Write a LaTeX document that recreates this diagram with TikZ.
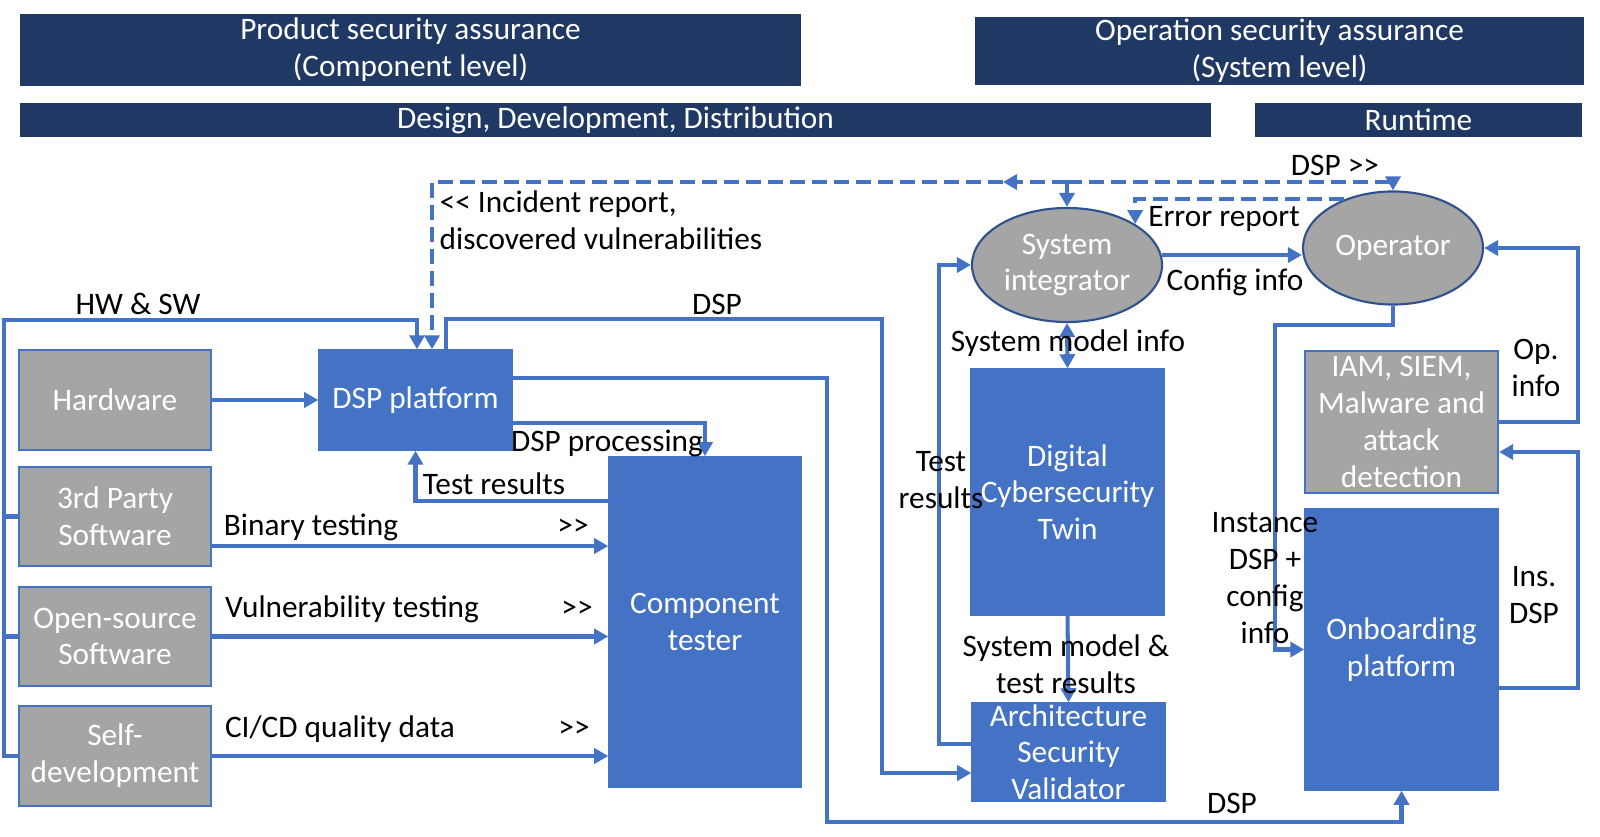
\documentclass[tikz,border=0pt]{standalone}
\usepackage{fontspec}
\setmainfont{Carlito}
\usetikzlibrary{arrows.meta,calc,shapes.geometric}
\definecolor{navy}{HTML}{203864}
\definecolor{mblue}{HTML}{4472C4}
\definecolor{mgray}{HTML}{A5A5A5}
\definecolor{edgeblue}{HTML}{2F528F}
\newcommand\gtgt{>\kern0pt>}
\newcommand\ltlt{<\kern0pt<}
\begin{document}
\begin{tikzpicture}[x=0.01cm,y=-0.01cm,
 every node/.style={font=\fontsize{8.9}{10.45}\selectfont, inner sep=0pt},
 hdr/.style={fill=navy, text=white, align=center},
 bluebox/.style={fill=mblue, draw=mblue, text=white, align=center},
 graybox/.style={fill=mgray, draw=mblue, line width=0.6pt, text=white, align=center},
 oval/.style={ellipse, fill=mgray, draw=edgeblue, line width=0.6pt, text=white, align=center},
 ln/.style={draw=mblue, line width=1.15pt},
 arr/.style={ln, -{Triangle[length=0.14cm,width=0.15cm]}},
 darr/.style={ln, {Triangle[length=0.14cm,width=0.15cm]}-{Triangle[length=0.14cm,width=0.15cm]}},
 dsh/.style={dash pattern=on 0.15cm off 0.07cm},
 lbl/.style={text=black, align=center}]
\useasboundingbox (0,0) rectangle (1600,837);

% header bars
\node[hdr, minimum width=7.81cm, minimum height=0.72cm] (h1) at (410.5,50) {Product security assurance\\(Component level)};
\node[hdr, minimum width=6.09cm, minimum height=0.68cm] (h2) at (1279.5,51) {Operation security assurance\\(System level)};
\node[hdr, minimum width=11.91cm, minimum height=0.33cm] (h3) at (615.5,120) {Design, Development, Distribution};
\node[hdr, minimum width=3.27cm, minimum height=0.33cm] (h4) at (1418.5,120) {Runtime};

% boxes
\node[graybox, minimum width=1.92cm, minimum height=1.00cm] (hw) at (115,400) {Hardware};
\node[bluebox, minimum width=1.93cm, minimum height=1.00cm] (dsp) at (415.5,400) {DSP platform};
\node[graybox, minimum width=1.92cm, minimum height=0.99cm] (tp) at (115,516.5) {3rd Party\\Software};
\node[graybox, minimum width=1.92cm, minimum height=0.99cm] (os) at (115,636.5) {Open-source\\Software};
\node[graybox, minimum width=1.92cm, minimum height=1.00cm] (sd) at (115,756) {Self-\\development};
\node[bluebox, minimum width=1.92cm, minimum height=3.30cm] (ct) at (705,622) {Component\\tester};
\node[oval, minimum width=1.90cm, minimum height=1.14cm] (si) at (1067,265) {System\\integrator};
\node[oval, minimum width=1.80cm, minimum height=1.13cm] (op) at (1393,248) {Operator};
\node[bluebox, minimum width=1.93cm, minimum height=2.46cm] (dct) at (1067.5,492) {Digital\\Cybersecurity\\Twin};
\node[bluebox, minimum width=1.93cm, minimum height=0.98cm] (asv) at (1068.5,752) {Architecture\\Security\\Validator};
\node[graybox, minimum width=1.93cm, minimum height=1.42cm] (iam) at (1401.5,422) {IAM, SIEM,\\Malware and\\attack\\detection};
\node[bluebox, minimum width=1.93cm, minimum height=2.81cm] (ob) at (1401.5,649.5) {Onboarding\\platform};

% left side connectors
\draw[arr] (hw.east) -- (dsp.west);
\draw[arr] (sd.west) -| (4,320) -| ([xshift=0.015cm]dsp.north);
\draw[ln] (tp.west) -- ++(-15,0);
\draw[ln] (os.west) -- ++(-15,0);

\coordinate (bt) at ([yshift=-0.295cm]tp.east);
\draw[arr] (bt) -- (bt -| ct.west);
\draw[arr] (os.east) -- (os.east -| ct.west);
\draw[arr] (sd.east) -- (sd.east -| ct.west);

\draw[arr] ([yshift=-0.23cm]dsp.east) -| (ct.north);
\draw[arr] ([yshift=1.21cm]ct.west) -| (dsp.south);
\draw[arr] ([xshift=0.305cm]dsp.north) |- (882,319) |- ([yshift=-0.21cm]asv.west);
\draw[arr] ([yshift=0.22cm]dsp.east) -| (827,822) -| (ob.south);

% dashed feedback
\coordinate (jn) at (1067,182);
\coordinate (mid) at (1003,182);
\draw[arr] (jn) -- (si.north);
\draw[arr,dsh] (jn) -- (mid);
\draw[arr,dsh] (mid) -| ([xshift=0.165cm]dsp.north);
\draw[arr,dsh] (jn) -| (op.north);
\draw[arr,dsh] (op.135) -| (si.31);

% system side
\draw[arr] (si.6) -- (si.6 -| op.west);
\draw[darr] (si.south) -- (dct.north);
\draw[arr] (dct.south) -- (asv.north);
\draw[arr] ([yshift=0.08cm]asv.west) -- ++(-32,0) |- (si.west);
\draw[arr] (op.south) |- (1275,325) |- (ob.west);
\draw[arr] (iam.east) -- ++(79,0) |- (op.east);
\draw[arr] ([yshift=-0.385cm]ob.east) -- ++(79,0) |- ([yshift=-0.30cm]iam.east);

% labels
\node[lbl] (lhwsw) at (138,304) {HW \& SW};
\node[lbl] (ldspa) at (717,304) {DSP};
\node[lbl, align=left, anchor=west] (linc) at (439,220) {\ltlt{} Incident report,\\discovered vulnerabilities};
\node[lbl] (lproc) at (607,443) {DSP processing};
\node[lbl] (ltr) at (494,484) {Test results};
\node[lbl] (lbin) at (311,527) {Binary testing};
\node[lbl] (lbinx) at (573,527) {\gtgt};
\node[lbl] (lvul) at (352,609) {Vulnerability testing};
\node[lbl] (lvulx) at (577,609) {\gtgt};
\node[lbl] (lci) at (340,729) {CI/CD quality data};
\node[lbl] (lcix) at (574,729) {\gtgt};
\node[lbl] (ldspb) at (1335,165) {DSP \gtgt};
\node[lbl] (lerr) at (1224,219) {Error report};
\node[lbl] (lcfg) at (1235,282) {Config info};
\node[lbl] (lsmi) at (1068,343) {System model info};
\node[lbl] (ltres) at (941,480) {Test\\results};
\node[lbl] (lsmt) at (1066,664) {System model \&\\test results};
\node[lbl] (linst) at (1265,578) {Instance\\DSP +\\config\\info};
\node[lbl] (lopi) at (1536,368) {Op.\\info};
\node[lbl] (lins) at (1534,595) {Ins.\\DSP};
\node[lbl] (ldspc) at (1232,803) {DSP};
\end{tikzpicture}
\end{document}
